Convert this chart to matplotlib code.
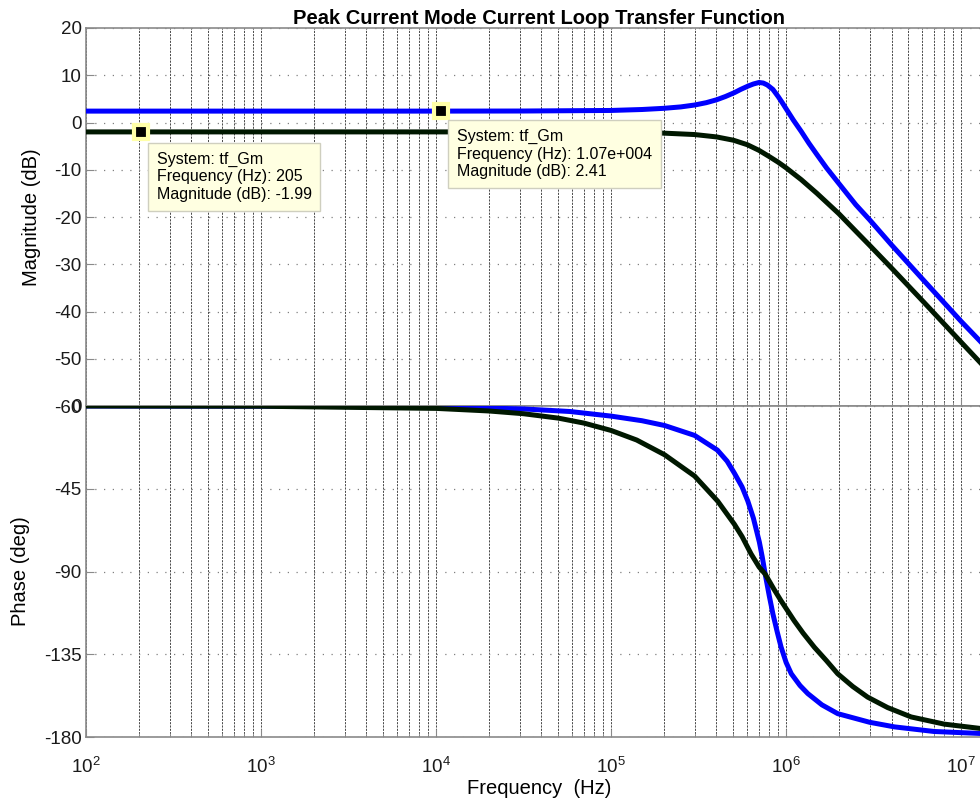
import matplotlib
matplotlib.use("Agg")
import matplotlib.pyplot as plt
from matplotlib.ticker import LogLocator, NullFormatter, FixedLocator

plt.rcParams['font.family'] = ['Liberation Sans', 'DejaVu Sans']
plt.rcParams['mathtext.fontset'] = 'custom'
plt.rcParams['mathtext.rm'] = 'Liberation Sans'
plt.rcParams['mathtext.it'] = 'Liberation Sans:italic'
plt.rcParams['mathtext.bf'] = 'Liberation Sans:bold'
plt.rcParams['axes.unicode_minus'] = False

# ---------------- data ----------------
title = "Peak Current Mode Current Loop Transfer Function"

freq_mag_blue = [1e2, 1e3, 1e4, 3.16e4, 1e5, 1.5e5, 2e5, 2.5e5, 3e5, 3.5e5, 4e5, 4.5e5,
                 5.05e5, 5.5e5, 6.05e5, 6.5e5, 7.0e5, 7.4e5, 7.8e5, 8.4e5, 9.0e5,
                 9.5e5, 1.0e6, 1.1e6, 1.22e6, 1.35e6, 1.5e6, 1.7e6, 2.0e6, 2.5e6,
                 3.0e6, 4.0e6, 6.0e6, 1.0e7, 1.3e7, 1.58e7]
mag_blue = [2.41, 2.41, 2.41, 2.43, 2.55, 2.75, 3.0, 3.3, 3.7, 4.2, 4.8, 5.5,
            6.3, 7.0, 7.7, 8.15, 8.47, 8.35, 7.95, 7.0, 5.5,
            4.2, 2.9, 0.5, -1.9, -4.4, -6.8, -9.6, -12.9, -17.4,
            -20.6, -25.9, -33.1, -42.1, -46.5, -50.1]

freq_mag_black = [1e2, 1e3, 1e4, 3.16e4, 1e5, 2e5, 3e5, 4e5, 5e5, 6e5, 7e5, 8e5,
                  9e5, 1e6, 1.22e6, 1.5e6, 2e6, 2.5e6, 3e6, 4e6, 6e6, 1e7,
                  1.3e7, 1.58e7]
mag_black = [-1.99, -1.99, -1.99, -2.0, -2.05, -2.25, -2.55, -3.05, -3.75, -4.7, -5.9, -7.2,
             -8.4, -9.6, -12.1, -15.0, -19.3, -23.0, -26.0, -30.8, -37.7, -46.5,
             -51.0, -54.4]

freq_ph_blue = [1e2, 1e3, 1e4, 3.16e4, 5.83e4, 1e5, 1.5e5, 2.02e5, 3e5, 4.05e5, 4.6e5,
                5.06e5, 5.6e5, 6.04e5, 6.5e5, 7.03e5, 7.3e5, 7.59e5, 8.0e5, 8.4e5,
                8.9e5, 9.35e5, 1.0e6, 1.07e6, 1.2e6, 1.33e6, 1.6e6, 1.97e6, 3e6,
                4.16e6, 7e6, 1.3e7, 1.58e7]
ph_blue = [0.0, -0.1, -0.5, -1.6, -3.0, -5.5, -8.0, -10.6, -16.0, -24.0, -30.0,
           -36.5, -44.0, -51.7, -61.0, -74.0, -82.0, -91.4, -103.0, -113.0,
           -123.0, -131.0, -139.5, -145.6, -152.0, -156.4, -162.5, -167.3, -172.0,
           -174.5, -177.0, -178.1, -178.4]

freq_ph_black = [1e2, 1e3, 1e4, 2e4, 3.16e4, 5e4, 7e4, 1e5, 1.4e5, 2.02e5, 3e5,
                 4.06e5, 5.06e5, 5.6e5, 6.31e5, 7.0e5, 7.59e5, 8.5e5, 9.35e5, 1.11e6,
                 1.25e6, 1.45e6, 1.7e6, 1.97e6, 2.4e6, 2.92e6, 3.8e6, 5.18e6, 8e6,
                 1.3e7, 1.58e7]
ph_black = [0.0, -0.13, -1.3, -2.7, -4.2, -6.6, -9.3, -13.3, -18.5, -26.5, -38.1,
            -51.7, -64.3, -71.0, -80.5, -87.5, -91.4, -99.5, -105.9, -116.7,
            -123.5, -131.2, -138.5, -145.6, -152.5, -158.3, -164.0, -169.1, -173.0,
            -175.4, -176.0]

tip1_freq, tip1_mag = 205, -1.99
tip2_freq, tip2_mag = 1.07e4, 2.41
tip1_text = "System: tf_Gm\nFrequency (Hz): 205\nMagnitude (dB): -1.99"
tip2_text = "System: tf_Gm\nFrequency (Hz): 1.07e+004\nMagnitude (dB): 2.41"

mag_ticks = [20, 10, 0, -10, -20, -30, -40, -50, -60]
ph_ticks = [0, -45, -90, -135, -180]
x_ticks = [1e2, 1e3, 1e4, 1e5, 1e6, 1e7]

# ---------------- figure ----------------
W, H = 980, 802
fig = plt.figure(figsize=(W / 100, H / 100), dpi=100)

left_px, right_px = 86, 992
top_px, mid_px, bot_px = 28, 406, 737
axw = right_px - left_px

ax1 = fig.add_axes([left_px / W, 1 - mid_px / H, axw / W, (mid_px - top_px) / H])
ax2 = fig.add_axes([left_px / W, 1 - bot_px / H, axw / W, (bot_px - mid_px) / H])

blue = '#0000ff'
black = '#001800'
spine_col = '#8a8a8a'

for ax in (ax1, ax2):
    ax.set_xscale('log')
    ax.set_xlim(1e2, 1.5e7)
    ax.xaxis.set_major_locator(FixedLocator(x_ticks))
    ax.xaxis.set_minor_locator(LogLocator(base=10, subs=range(2, 10), numticks=20))
    ax.xaxis.set_minor_formatter(NullFormatter())
    ax.grid(True, axis='x', which='both', linestyle=(0, (2.2, 1.2)), color='#4a4a4a', linewidth=0.7)
    ax.grid(True, axis='y', which='major', linestyle=(0, (1, 6)), color='#808080', linewidth=0.9)
    for s in ax.spines.values():
        s.set_color(spine_col)
        s.set_linewidth(1.2)
    ax.tick_params(axis='both', which='both', direction='in', color=spine_col,
                   labelsize=13.5, labelcolor='#1a1a1a')
    ax.tick_params(axis='y', length=6, pad=3)
    ax.tick_params(axis='x', which='major', length=6)
    ax.tick_params(axis='x', which='minor', length=3)
    ax.set_axisbelow(True)

ax1.plot(freq_mag_blue, mag_blue, color=blue, lw=3.6, solid_joinstyle='round', zorder=3)
ax1.plot(freq_mag_black, mag_black, color=black, lw=3.6, solid_joinstyle='round', zorder=3)
ax1.set_ylim(-60, 20)
ax1.set_yticks(mag_ticks)
ax1.tick_params(axis='x', labelbottom=False)
ax1.set_ylabel('Magnitude (dB)', fontsize=14.5)
ax1.yaxis.set_label_coords((41 - left_px) / axw, 0.5)
ax1.set_title(title, fontsize=14.5, fontweight='bold', pad=3)

ax2.plot(freq_ph_blue, ph_blue, color=blue, lw=3.6, solid_joinstyle='round', zorder=3)
ax2.plot(freq_ph_black, ph_black, color=black, lw=3.6, solid_joinstyle='round', zorder=3)
ax2.set_ylim(-180, 0)
ax2.set_yticks(ph_ticks)
ax2.tick_params(axis='x', pad=14)
ax2.set_ylabel('Phase (deg)', fontsize=14.5)
ax2.yaxis.set_label_coords((30 - left_px) / axw, 0.5)
ax2.set_xlabel('Frequency  (Hz)', fontsize=14.5, labelpad=2)

# data tips
for f, m, txt, off in [(tip1_freq, tip1_mag, tip1_text, (16, -20)),
                       (tip2_freq, tip2_mag, tip2_text, (16, -18))]:
    ax1.plot([f], [m], marker='s', markersize=10, markerfacecolor='black',
             markeredgecolor='#ffffa8', markeredgewidth=3, zorder=6, clip_on=False)
    ax1.annotate(txt, xy=(f, m), xycoords='data', xytext=off, textcoords='offset pixels',
                 ha='left', va='top', fontsize=11.5, linespacing=1.2, color='black',
                 bbox=dict(boxstyle='square,pad=0.55', facecolor='#ffffe1',
                           edgecolor='#cfcfbf', linewidth=1.0), zorder=7)

fig.savefig('out.png', dpi=100)
